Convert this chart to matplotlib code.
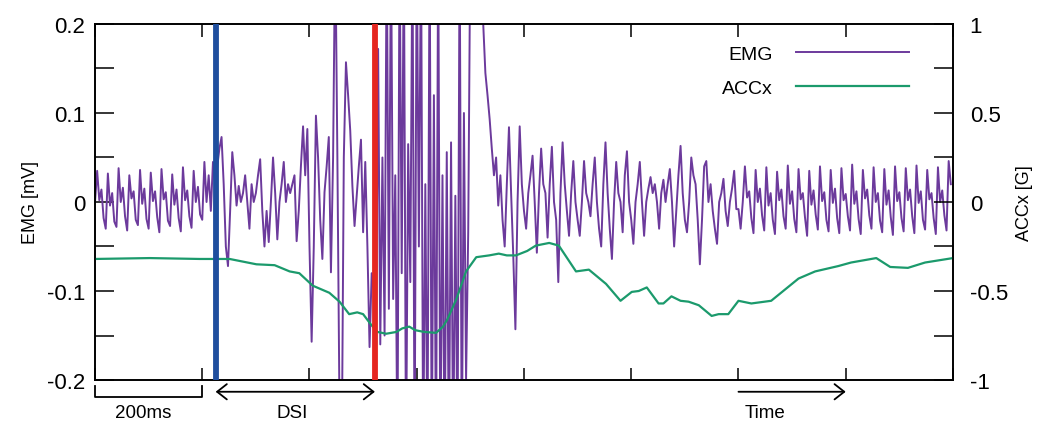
import matplotlib
matplotlib.use("Agg")
import matplotlib.pyplot as plt
import matplotlib.transforms as mtransforms
import numpy as np

plt.rcParams["font.family"] = ["Liberation Sans", "DejaVu Sans"]

# EMG trace, one sample every 4 ms; one row per 100 ms
SAMPLE_MS = 4
emg_mv = [
    0.000, 0.035, 0.002, 0.014, -0.018, -0.030, 0.032, -0.004, 0.010, -0.022, -0.028, 0.038, 0.000, 0.016, -0.016, -0.032, 0.030, 0.004, 0.012, -0.020, -0.026, 0.036, -0.002, 0.015, -0.019,
    -0.030, 0.033, 0.001, 0.012, -0.017, -0.034, 0.037, 0.003, 0.011, -0.021, -0.027, 0.031, -0.003, 0.014, -0.018, -0.033, 0.039, 0.002, 0.013, -0.016, -0.029, 0.035, 0.000, 0.017, -0.014,
    -0.020, 0.045, 0.000, 0.030, -0.010, 0.045, 0.020, 0.040, 0.060, 0.073, 0.020, -0.050, -0.072, -0.010, 0.056, 0.030, -0.004, 0.018, 0.000, 0.010, 0.030, 0.000, -0.030, 0.020, 0.000,
    0.010, 0.030, 0.048, -0.010, -0.050, -0.010, -0.045, 0.000, 0.050, 0.010, -0.042, 0.000, 0.020, 0.045, 0.000, 0.020, 0.010, 0.020, 0.030, -0.044, -0.010, 0.040, 0.085, 0.030, 0.082,
    -0.050, -0.157, -0.050, 0.097, 0.050, -0.020, -0.064, 0.011, 0.040, 0.073, -0.079, 0.050, 0.300, 0.050, -0.250, -0.300, 0.050, 0.157, 0.120, 0.080, 0.018, -0.027, 0.007, 0.040, 0.070,
    -0.034, 0.045, -0.050, -0.163, -0.080, -0.100, -0.165, 0.172, -0.160, 0.050, -0.150, 0.300, -0.120, 0.300, -0.109, 0.030, -0.300, 0.300, -0.080, 0.300, -0.300, 0.065, -0.090, 0.300, -0.300,
    0.300, -0.050, 0.300, -0.300, 0.020, -0.300, 0.300, -0.300, 0.120, -0.300, 0.300, -0.300, 0.030, -0.300, 0.056, -0.300, 0.067, -0.300, 0.007, -0.300, 0.300, -0.300, 0.100, -0.200, -0.034,
    0.300, 0.300, 0.220, 0.300, 0.300, 0.300, 0.200, 0.145, 0.120, 0.093, 0.060, 0.030, 0.050, -0.004, 0.030, -0.020, -0.050, 0.020, 0.084, 0.010, -0.060, -0.143, 0.000, 0.085, 0.020,
    -0.010, -0.030, 0.010, 0.030, 0.052, 0.000, -0.057, 0.010, 0.060, 0.020, 0.010, -0.040, 0.020, 0.062, 0.000, -0.020, -0.090, 0.010, 0.067, 0.020, -0.010, -0.038, 0.010, 0.046, 0.000,
    -0.020, -0.038, 0.000, 0.046, 0.010, 0.000, -0.016, 0.020, 0.050, 0.000, -0.030, -0.050, 0.020, 0.067, 0.010, -0.030, -0.064, 0.000, 0.045, 0.010, 0.000, -0.034, 0.030, 0.057, 0.000,
    -0.020, -0.047, 0.000, 0.020, 0.045, 0.000, -0.038, 0.000, 0.015, 0.028, 0.010, 0.020, 0.000, -0.030, 0.010, 0.025, 0.000, 0.020, 0.037, 0.000, -0.050, -0.010, 0.030, 0.063, 0.010,
    -0.020, -0.034, 0.000, 0.050, 0.030, 0.020, -0.020, -0.070, -0.020, 0.040, 0.046, 0.000, 0.020, -0.010, -0.030, -0.047, 0.000, 0.010, 0.026, -0.010, -0.027, 0.000, 0.015, 0.035, -0.008,
    -0.008, -0.030, 0.000, 0.040, 0.005, 0.012, -0.018, -0.035, 0.036, 0.000, 0.015, -0.015, -0.032, 0.039, -0.004, 0.010, -0.020, -0.036, 0.034, 0.002, 0.014, -0.016, -0.030, 0.041, -0.002,
    0.012, -0.019, -0.034, 0.037, 0.003, 0.010, -0.017, -0.038, 0.035, -0.003, 0.013, -0.014, -0.031, 0.040, 0.001, 0.011, -0.020, -0.033, 0.036, -0.001, 0.015, -0.018, -0.035, 0.038, 0.002,
    0.009, -0.016, -0.032, 0.042, -0.002, 0.012, -0.019, -0.036, 0.036, 0.004, 0.014, -0.015, -0.030, 0.039, 0.000, 0.010, -0.021, -0.034, 0.037, -0.003, 0.013, -0.017, -0.037, 0.040, 0.001,
    0.011, -0.018, -0.033, 0.038, 0.002, 0.014, -0.016, -0.035, 0.041, -0.001, 0.012, -0.020, -0.031, 0.036, 0.003, 0.010, -0.018, -0.036, 0.039, 0.000, 0.013, -0.015, -0.032, 0.046, 0.020,
]

# accelerometer x axis (G)
acc_t_ms = [0, 102, 195, 251, 301, 335, 363, 381, 406, 437, 456, 474, 489, 500, 515, 527,
            543, 562, 573, 586, 597, 614, 636, 649, 657, 674, 692, 711, 735, 753, 768, 785,
            806, 822, 847, 865, 897, 921, 953, 980, 1001, 1014, 1029, 1051, 1060, 1075, 1092,
            1107, 1126, 1150, 1163, 1181, 1200, 1224, 1261, 1312, 1343, 1386, 1410, 1457,
            1483, 1516, 1548, 1600]
acc_g = [-0.32, -0.315, -0.32, -0.32, -0.35, -0.355, -0.39, -0.40, -0.47, -0.51, -0.56,
         -0.63, -0.62, -0.63, -0.69, -0.73, -0.74, -0.73, -0.71, -0.70, -0.72, -0.73,
         -0.735, -0.70, -0.66, -0.545, -0.39, -0.31, -0.30, -0.29, -0.30, -0.30, -0.275,
         -0.245, -0.23, -0.245, -0.39, -0.38, -0.46, -0.555, -0.505, -0.50, -0.48, -0.57,
         -0.57, -0.53, -0.555, -0.56, -0.58, -0.64, -0.63, -0.63, -0.555, -0.57, -0.555,
         -0.43, -0.39, -0.36, -0.34, -0.315, -0.365, -0.37, -0.34, -0.315]

stim_ms = 225      # blue marker
response_ms = 522  # red marker

emg_yticks = [-0.2, -0.1, 0, 0.1, 0.2]
emg_ylabels = ["-0.2", "-0.1", "0", "0.1", "0.2"]
acc_yticks = [-1, -0.5, 0, 0.5, 1]
acc_ylabels = ["-1", "-0.5", "0", "0.5", "1"]

EMG_COLOR = "#6c3a9c"
ACC_COLOR = "#1b9a6c"

emg_t = np.arange(len(emg_mv)) * SAMPLE_MS

fig = plt.figure(figsize=(10.44, 4.27), dpi=100)
ax = fig.add_axes([0.091, 0.1077, 0.8218, 0.8338])
ax2 = ax.twinx()

l_emg, = ax.plot(emg_t, emg_mv, color=EMG_COLOR, lw=1.4, label="EMG")
l_acc, = ax2.plot(acc_t_ms, acc_g, color=ACC_COLOR, lw=1.6, label="ACCx")

ax2.axvline(stim_ms, color="#1f4e9e", lw=4.2, zorder=5)
ax2.axvline(response_ms, color="#e52620", lw=4.2, zorder=5)

ax.set_xlim(0, 1600)
ax.set_ylim(-0.2, 0.2)
ax2.set_ylim(-1, 1)

ax.set_xticks(np.arange(0, 1601, 200))
ax.set_yticks(emg_yticks)
ax.set_yticklabels(emg_ylabels)
ax.set_yticks(np.arange(-0.15, 0.2, 0.1), minor=True)
ax2.set_yticks(acc_yticks)
ax2.set_yticklabels(acc_ylabels)
ax2.set_yticks([-0.75, -0.25, 0.25, 0.75], minor=True)

ax.tick_params(axis="x", direction="in", length=9, width=1.1, top=True,
               labelbottom=False)
ax.tick_params(axis="y", which="both", direction="in", length=14, width=1.1,
               labelsize=16, pad=7)
ax2.tick_params(axis="y", which="both", direction="in", length=14, width=1.1,
                labelsize=16, pad=12)
ax2.tick_params(axis="x", top=False, bottom=False)

for a in (ax, ax2):
    for s in a.spines.values():
        s.set_linewidth(1.2)

ax.set_ylabel("EMG [mV]", fontsize=13, labelpad=6)
ax2.set_ylabel("ACCx [G]", fontsize=13, labelpad=6)

ax2.legend([l_emg, l_acc], ["EMG", "ACCx"], loc="upper right",
           bbox_to_anchor=(0.958, 0.962), frameon=False, markerfirst=False,
           fontsize=14, handlelength=5.8, handletextpad=1.2, labelspacing=0.85,
           borderaxespad=0)

# scale bar and arrows under the axis
trans = mtransforms.blended_transform_factory(ax.transData, ax.transAxes)
ax.plot([0, 0, 200, 200], [-0.016, -0.048, -0.048, -0.016], transform=trans,
        color="black", lw=1.3, clip_on=False)
ax.text(90, -0.092, "200ms", transform=trans, ha="center", va="center", fontsize=13.5)

arrow_kw = dict(arrowstyle="<->,head_length=0.7,head_width=0.55", color="black",
                lw=1.3, shrinkA=0, shrinkB=0, mutation_scale=10)
ax.annotate("", xy=(response_ms, -0.033), xytext=(stim_ms, -0.033), xycoords=trans,
            textcoords=trans, arrowprops=arrow_kw, annotation_clip=False)
ax.text(368, -0.09, "DSI", transform=trans, ha="center", va="center", fontsize=13.5)

time_kw = dict(arrow_kw, arrowstyle="->,head_length=0.7,head_width=0.55")
ax.annotate("", xy=(1400, -0.033), xytext=(1200, -0.033), xycoords=trans,
            textcoords=trans, arrowprops=time_kw, annotation_clip=False)
ax.text(1250, -0.09, "Time", transform=trans, ha="center", va="center", fontsize=13.5)

fig.savefig("out.png", dpi=100)
